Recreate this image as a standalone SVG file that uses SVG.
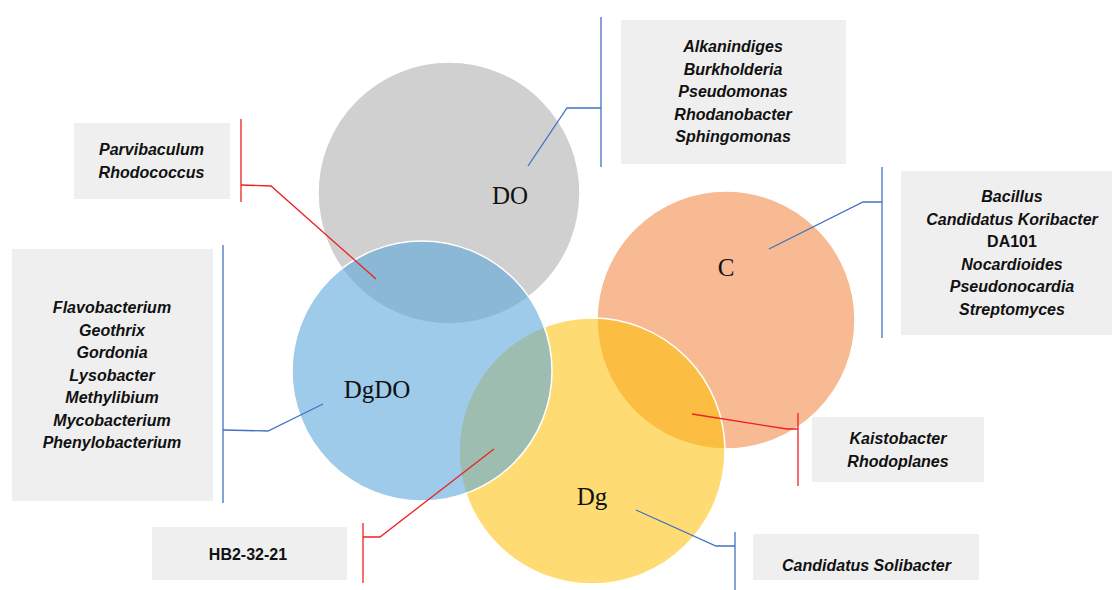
<svg xmlns="http://www.w3.org/2000/svg" width="1112" height="590" viewBox="0 0 1112 590">
<style>
.box{fill:#EFEFEF}
.t{font-family:"Liberation Sans",Arial,sans-serif;font-size:16px;font-weight:bold;font-style:italic;fill:#111;text-anchor:middle}
.n{font-style:normal}
.lbl{font-family:"Liberation Serif","Times New Roman",serif;font-size:25px;fill:#111;text-anchor:middle}
.circ{stroke:#FFFFFF;stroke-width:1.5}
.cb{fill:none;stroke:#4472C4;stroke-width:1.3}
.cr{fill:none;stroke:#F02020;stroke-width:1.3}
</style>
<rect width="1112" height="590" fill="#FFFFFF"/>
<g id="circles">
<g id="node-DO"><circle class="circ" cx="449" cy="193" r="131" fill="#D0D0D0"/></g>
<g id="node-C"><circle class="circ" cx="726" cy="320" r="129" fill="#F07A30" fill-opacity="0.52"/></g>
<g id="node-Dg"><circle class="circ" cx="592" cy="451" r="133" fill="#FFC000" fill-opacity="0.55"/></g>
<g id="node-DgDO"><circle class="circ" cx="422" cy="371" r="130" fill="#5CA8DA" fill-opacity="0.6"/></g>
<text class="lbl" x="510" y="204">DO</text>
<text class="lbl" x="726" y="276">C</text>
<text class="lbl" x="377" y="398">DgDO</text>
<text class="lbl" x="592" y="505">Dg</text>
</g>
<g id="connectors">
<polyline class="cb" points="528,166 567,108 601,108"/>
<line class="cb" x1="601" y1="17" x2="601" y2="167"/>
<polyline class="cr" points="376,279 271,186 241,185"/>
<line class="cr" x1="241" y1="119" x2="241" y2="202"/>
<polyline class="cb" points="323,404 268,431 223,430"/>
<line class="cb" x1="223" y1="245" x2="223" y2="503"/>
<polyline class="cb" points="769,249 863,202 882,202"/>
<line class="cb" x1="882" y1="167" x2="882" y2="338"/>
<polyline class="cr" points="692,414 787,429 798,429"/>
<line class="cr" x1="798" y1="413" x2="798" y2="486"/>
<polyline class="cb" points="636,510 716,546 735,546"/>
<line class="cb" x1="735" y1="532" x2="735" y2="590"/>
<polyline class="cr" points="494,449 380,537 363,537"/>
<line class="cr" x1="363" y1="523" x2="363" y2="583"/>
</g>
<g id="box-DO">
<rect class="box" x="621" y="20" width="225" height="144"/>
<text class="t" x="733" y="52">Alkanindiges</text>
<text class="t" x="733" y="74.5">Burkholderia</text>
<text class="t" x="733" y="97">Pseudomonas</text>
<text class="t" x="733" y="119.5">Rhodanobacter</text>
<text class="t" x="733" y="142">Sphingomonas</text>
</g>
<g id="box-DO-DgDO">
<rect class="box" x="74" y="123" width="156" height="76"/>
<text class="t" x="151.5" y="155">Parvibaculum</text>
<text class="t" x="151.5" y="178">Rhodococcus</text>
</g>
<g id="box-DgDO">
<rect class="box" x="12" y="249" width="201" height="252"/>
<text class="t" x="112" y="313">Flavobacterium</text>
<text class="t" x="112" y="335.5">Geothrix</text>
<text class="t" x="112" y="358">Gordonia</text>
<text class="t" x="112" y="380.5">Lysobacter</text>
<text class="t" x="112" y="403">Methylibium</text>
<text class="t" x="112" y="425.5">Mycobacterium</text>
<text class="t" x="112" y="448">Phenylobacterium</text>
</g>
<g id="box-C">
<rect class="box" x="901" y="171" width="211" height="164"/>
<text class="t" x="1012" y="202">Bacillus</text>
<text class="t" x="1012" y="224.5">Candidatus Koribacter</text>
<text class="t n" x="1012" y="247">DA101</text>
<text class="t" x="1012" y="269.5">Nocardioides</text>
<text class="t" x="1012" y="292">Pseudonocardia</text>
<text class="t" x="1012" y="314.5">Streptomyces</text>
</g>
<g id="box-C-Dg">
<rect class="box" x="812" y="417" width="172" height="65"/>
<text class="t" x="898" y="444">Kaistobacter</text>
<text class="t" x="898" y="467">Rhodoplanes</text>
</g>
<g id="box-Dg">
<rect class="box" x="753" y="534" width="226" height="46"/>
<text class="t" x="866.5" y="571">Candidatus Solibacter</text>
</g>
<g id="box-DgDO-Dg">
<rect class="box" x="152" y="527" width="195" height="53"/>
<text class="t n" x="248" y="560">HB2-32-21</text>
</g>
</svg>
